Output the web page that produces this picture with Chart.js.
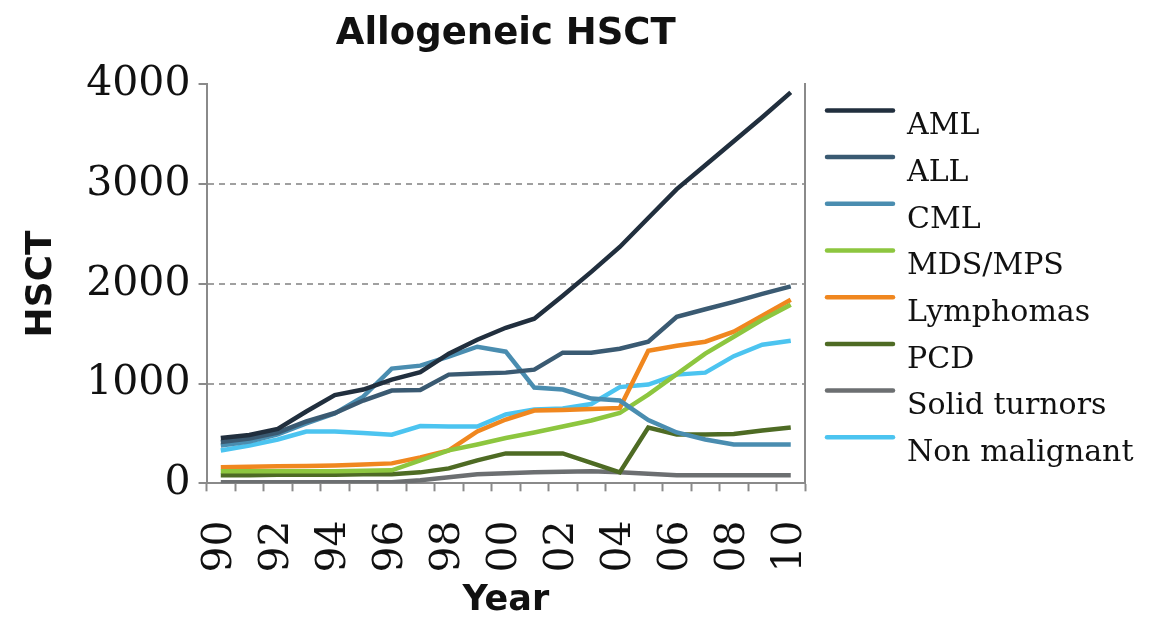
<!DOCTYPE html>
<html>
<head>
<meta charset="utf-8">
<title>Allogeneic HSCT</title>
<script src="https://cdn.jsdelivr.net/npm/chart.js@4.4.1/dist/chart.umd.min.js"></script>
<style>
    body { margin: 0; background: #fff; }
    #wrap { width: 1167px; height: 617px; }
</style>
</head>
<body>
<div id="wrap"><canvas id="hsctChart" width="1167" height="617"></canvas></div>
<script>
// Années 1990 -> 2010 (libellés sur deux chiffres)
const years = ['90', '91', '92', '93', '94', '95', '96', '97', '98', '99', '00',
               '01', '02', '03', '04', '05', '06', '07', '08', '09', '10'];

// Nombre de greffes par indication
const amlValues        = [455, 485, 545, 720, 885, 940, 1040, 1115, 1300, 1440, 1560, 1650, 1880, 2120, 2370, 2660, 2950, 3190, 3430, 3670, 3920];
const allValues        = [415, 450, 510, 620, 705, 830, 930, 935, 1090, 1100, 1110, 1140, 1310, 1310, 1350, 1420, 1670, 1745, 1820, 1900, 1975];
const cmlValues        = [380, 420, 490, 600, 700, 870, 1150, 1180, 1270, 1370, 1320, 960, 940, 850, 830, 635, 510, 440, 390, 390, 390];
const mdsValues        = [120, 120, 120, 120, 120, 125, 130, 230, 330, 390, 455, 510, 570, 630, 705, 890, 1095, 1300, 1470, 1640, 1790];
const lymphomaValues   = [160, 165, 170, 175, 180, 190, 200, 260, 330, 520, 640, 730, 735, 745, 755, 1330, 1380, 1420, 1520, 1680, 1840];
const pcdValues        = [80, 80, 85, 85, 85, 90, 90, 110, 150, 230, 300, 300, 300, 205, 110, 560, 490, 490, 495, 530, 560];
const solidValues      = [10, 10, 10, 10, 10, 10, 10, 30, 60, 90, 100, 110, 115, 120, 110, 95, 80, 80, 80, 80, 80];
const nonMalignValues  = [330, 380, 440, 520, 520, 505, 488, 575, 570, 570, 690, 740, 750, 795, 965, 990, 1090, 1110, 1275, 1390, 1430];

const seriesNames  = ['AML', 'ALL', 'CML', 'MDS/MPS', 'Lymphomas', 'PCD', 'Solid turnors', 'Non malignant'];
const seriesValues = [amlValues, allValues, cmlValues, mdsValues, lymphomaValues, pcdValues, solidValues, nonMalignValues];
const seriesColors = ['#212f3e', '#3a5a72', '#4a8db0', '#8dc63f', '#f0871f', '#4e6b24', '#6c6f71', '#4cc4f0'];

const yTicks = [0, 1000, 2000, 3000, 4000];

const axisGrey = '#8a8a8a';

// Légende à droite : trait au-dessus, texte décalé vers le bas
const sideLegend = {
    id: 'sideLegend',
    afterDraw(chart) {
        const ctx = chart.ctx;
        const area = chart.chartArea;
        const x0 = area.right + 22;
        ctx.save();
        ctx.font = '30px "DejaVu Serif"';
        ctx.textBaseline = 'middle';
        ctx.textAlign = 'left';
        chart.data.datasets.forEach((ds, i) => {
            const y = area.top + 26 + i * 46.7;
            ctx.strokeStyle = ds.borderColor;
            ctx.lineWidth = 4.5;
            ctx.lineCap = 'round';
            ctx.beginPath();
            ctx.moveTo(x0, y);
            ctx.lineTo(x0 + 66, y);
            ctx.stroke();
            ctx.fillStyle = '#111';
            ctx.fillText(ds.label, x0 + 80, y + 16);
        });
        ctx.restore();
    }
};

const datasets = seriesNames.map((name, i) => ({
    label: name,
    data: seriesValues[i],
    borderColor: seriesColors[i],
    backgroundColor: seriesColors[i],
    borderWidth: 4.5,
    pointRadius: 0,
    tension: 0,
    fill: false
}));

const ctx = document.getElementById('hsctChart');

new Chart(ctx, {
    type: 'line',
    data: { labels: years, datasets: datasets },
    options: {
        responsive: false,
        animation: false,
        layout: { padding: { left: 20, right: 362, top: 8, bottom: 0 } },
        plugins: {
            legend: { display: false },
            tooltip: { enabled: false },
            title: {
                display: true,
                text: 'Allogeneic HSCT',
                fullSize: false,
                color: '#111',
                font: { family: 'DejaVu Sans', weight: 'bold', size: 37 },
                padding: { top: 4, bottom: 28 }
            }
        },
        scales: {
            x: {
                offset: true,
                grid: {
                    offset: true,
                    drawOnChartArea: false,
                    drawTicks: true,
                    tickLength: 8,
                    tickWidth: 2,
                    tickColor: axisGrey
                },
                border: { color: axisGrey, width: 2 },
                ticks: {
                    autoSkip: false,
                    minRotation: 90,
                    maxRotation: 90,
                    padding: 29,
                    color: '#111',
                    font: { family: 'DejaVu Serif', size: 41 },
                    callback: function(value, index) {
                        return index % 2 === 0 ? years[index] : '';
                    }
                },
                title: {
                    display: true,
                    text: 'Year',
                    color: '#111',
                    font: { family: 'DejaVu Sans', weight: 'bold', size: 35, lineHeight: 0.9 },
                    padding: { top: -16, bottom: 0 }
                }
            },
            y: {
                min: 0,
                max: 4000,
                afterBuildTicks: function(axis) {
                    axis.ticks = yTicks.map(v => ({ value: v }));
                },
                grid: {
                    color: function(c) {
                        const v = c.tick ? c.tick.value : null;
                        return (v === 0 || v === 4000) ? 'rgba(0,0,0,0)' : '#a0a0a0';
                    },
                    lineWidth: 2,
                    tickLength: 8,
                    tickWidth: 2,
                    tickColor: axisGrey,
                    tickBorderDash: []
                },
                border: { color: axisGrey, width: 2, dash: [6, 5] },
                ticks: {
                    padding: 8,
                    color: '#111',
                    font: { family: 'DejaVu Serif', size: 41 },
                    callback: function(value) {
                        return String(value);
                    }
                },
                title: {
                    display: true,
                    text: 'HSCT',
                    color: '#111',
                    font: { family: 'DejaVu Sans', weight: 'bold', size: 36 },
                    padding: { top: 0, bottom: 15 }
                }
            },
            y2: {
                position: 'right',
                min: 0,
                max: 4000,
                ticks: { display: false },
                grid: { drawOnChartArea: false, drawTicks: false },
                border: { color: axisGrey, width: 2 }
            }
        }
    },
    plugins: [sideLegend]
});
</script>
</body>
</html>
